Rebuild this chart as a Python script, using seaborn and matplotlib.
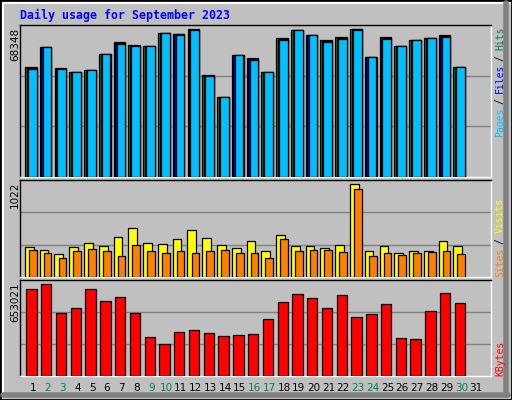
import numpy as np
import pandas as pd
import matplotlib
matplotlib.use("Agg")
import matplotlib.pyplot as plt
import matplotlib.transforms as mtrans
from matplotlib.patches import Rectangle
from matplotlib.lines import Line2D
import seaborn as sns

sns.set_theme(style="white")
plt.rcParams['font.family'] = ['DejaVu Sans']

days = list(range(1, 31))
day_labels = [str(d) for d in range(1, 32)]
weekend_days = [2, 3, 9, 10, 16, 17, 23, 24, 30]
hits = [50711, 59990, 50250, 48400, 49320, 56740, 62310, 60920, 60450, 66480, 66020, 68348, 47000, 37260, 56280,
        54890, 48400, 64160, 67870, 65550, 63230, 64630, 68348, 55350, 64630, 60450, 63230, 64160, 65550, 50710]
files = [50400, 59990, 49950, 48400, 49320, 56740, 61850, 60450, 60450, 66480, 66020, 67900, 46700, 37260, 56280,
         54430, 48400, 63700, 67870, 65550, 62770, 64170, 68348, 55350, 64170, 60450, 63230, 64160, 65090, 50710]
pages = [49800, 59990, 49800, 48400, 49320, 56740, 61700, 60450, 60450, 66480, 65570, 67870, 46550, 37260, 56280,
         54120, 48400, 63240, 67870, 65550, 62620, 63700, 67870, 55350, 63700, 60450, 63230, 64160, 64630, 50710]
visits = [329, 303, 258, 329, 380, 339, 439, 539, 380, 369, 417, 517, 428, 351, 317,
          395, 292, 461, 339, 339, 317, 351, 1022, 292, 339, 269, 292, 292, 395, 339]
sites = [303, 269, 214, 292, 314, 292, 236, 358, 292, 269, 292, 269, 292, 303, 269,
         269, 214, 417, 292, 303, 303, 280, 967, 236, 269, 247, 269, 280, 292, 258]
kbytes = [617200, 653021, 445600, 481400, 617200, 531400, 560000, 445600, 274000, 224000, 309800, 324100, 302600,
          281200, 288300, 295500, 402700, 524300, 581400, 552800, 481400, 574300, 417000, 438500, 510000, 266900,
          259700, 459900, 588600, 517100]

W, H = 512, 400
fig = plt.figure(figsize=(W / 100, H / 100), dpi=100, facecolor="#C0C0C0")
BG = "#C0C0C0"

def px_axes(x0, y0, x1, y1):
    return fig.add_axes([x0 / W, 1 - y1 / H, (x1 - x0) / W, (y1 - y0) / H])

XL = (0.12, 32.0)

def style(ax, ymax):
    ax.set_facecolor(BG)
    ax.set_xlim(*XL)
    ax.set_ylim(0, ymax)
    for y in (ymax / 3, 2 * ymax / 3):
        ax.axhline(y, color="#808080", lw=1, zorder=0)
    ax.set_xlabel("")
    ax.set_ylabel("")
    ax.set_yticks([])
    for s in ("top", "left"):
        ax.spines[s].set_color("black")
    for s in ("bottom", "right"):
        ax.spines[s].set_color("white")
    for s in ax.spines.values():
        s.set_linewidth(1)

def bars(ax, vals, off, width_days, color):
    x = np.array(days, dtype=float) + off
    sns.barplot(x=x, y=vals, native_scale=True, width=width_days, color=color,
                edgecolor="black", linewidth=0.9, saturation=1, ax=ax, zorder=3)

ax1 = px_axes(20, 25, 491, 177)
bars(ax1, hits, -0.146, 0.79, "#008040")
bars(ax1, files, -0.09, 0.68, "#0000FF")
bars(ax1, pages, -0.05, 0.59, "#00C0FF")
style(ax1, 68348 * 455 / 442)
ax1.set_xticks([])

ax2 = px_axes(20, 180, 491, 277)
bars(ax2, visits, -0.25, 0.59, "#FFFF00")
bars(ax2, sites, -0.01, 0.52, "#FF8000")
style(ax2, 1022 * 290 / 277)
ax2.set_xticks([])

ax3 = px_axes(20, 280, 491, 376)
bars(ax3, kbytes, -0.1, 0.7, "#FF0000")
style(ax3, 653021 * 285 / 274)
ax3.set_xticks(range(1, 32))
ax3.set_xticklabels(day_labels, fontsize=7.5)
ax3.tick_params(axis="x", length=0, pad=5)
for lab, d in zip(ax3.get_xticklabels(), range(1, 32)):
    lab.set_color("#00805C" if d in weekend_days else "black")

# left max labels
for txt, ytop in (("68348", 28), ("1022", 182), ("653021", 282)):
    fig.text(15 / W, 1 - ytop / H, txt, rotation=90, ha="center", va="top", fontsize=7.5, color="black")

# right legends
def legend(parts, ybottom):
    pos = ybottom
    cw = 5.45
    for txt, col in parts:
        fig.text(500 / W, 1 - pos / H, txt, rotation=90, ha="center", va="bottom",
                 fontsize=7, family="DejaVu Sans Mono", color=col)
        pos -= cw * (len(txt) + 1)

legend([("Pages", "#00C0FF"), ("/", "black"), ("Files", "#0000FF"), ("/", "black"), ("Hits", "#008040")], 137)
legend([("Sites", "#FF8000"), ("/", "black"), ("Visits", "#FFFF00")], 277)
legend([("KBytes", "#FF0000")], 376)

fig.text(20 / W, 1 - 15 / H, "Daily usage for September 2023", ha="left", va="center",
         fontsize=8.4, family="DejaVu Sans Mono", weight="bold", color="#0000FF")

# frame / bevel
fig.add_artist(Line2D([3 / W, 3 / W], [3 / H, 1 - 3 / H], color="white", lw=1.5))
fig.add_artist(Line2D([3 / W, 1 - 3 / W], [1 - 3 / H, 1 - 3 / H], color="white", lw=1.5))
fig.add_artist(Line2D([1 - 6 / W, 1 - 6 / W], [5 / H, 1 - 3 / H], color="#808080", lw=4))
fig.add_artist(Line2D([3 / W, 1 - 4 / W], [5 / H, 5 / H], color="#808080", lw=4))
fig.add_artist(Rectangle((0, 0), 1, 1, transform=fig.transFigure, fill=False, edgecolor="black", lw=2))

fig.savefig("out.png", dpi=100, facecolor=fig.get_facecolor())
